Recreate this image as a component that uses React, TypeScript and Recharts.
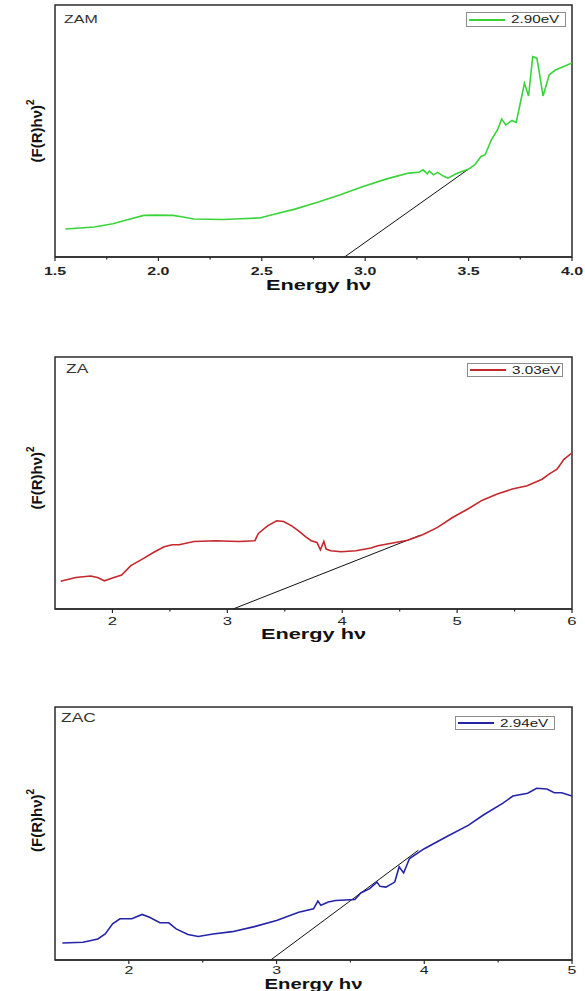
import React from 'react';
import { ComposedChart, Line, XAxis, YAxis, ReferenceLine, ReferenceArea, Legend, Label } from 'recharts';

const FONT = '"Liberation Sans", Arial, Helvetica, sans-serif';
const STRETCH = 1.45; // the source figure is squeezed wide, text included
const FRAME = '#2b2b2b';

// ZAM
const zamEnergy = [1.55, 1.69, 1.78, 1.85, 1.93, 1.99, 2.07, 2.12, 2.17, 2.31, 2.4, 2.49, 2.56, 2.66, 2.77, 2.88, 2.99, 3.1, 3.15, 3.21, 3.26, 3.28, 3.3, 3.31, 3.33, 3.35, 3.38, 3.4, 3.44, 3.5, 3.53, 3.56, 3.58, 3.61, 3.64, 3.66, 3.68, 3.71, 3.73, 3.75, 3.77, 3.79, 3.81, 3.83, 3.84, 3.86, 3.89, 3.92, 3.96, 4.0];
const zamSignal = [11.1, 11.9, 13.2, 14.8, 16.5, 16.6, 16.5, 15.9, 15.1, 14.9, 15.2, 15.5, 17.0, 19.0, 21.7, 24.7, 28.0, 30.9, 32.0, 33.3, 33.6, 34.6, 33.0, 34.1, 32.6, 33.6, 32.0, 31.3, 33.0, 34.9, 36.6, 39.9, 40.6, 46.5, 50.5, 54.7, 52.4, 54.2, 53.4, 61.0, 69.0, 63.9, 79.5, 78.9, 74.2, 63.9, 72.3, 74.2, 75.6, 77.0];
const zamFitX = [2.9, 3.5];
const zamFitY = [0, 34.9];
const zamTicks = [1.5, 2.0, 2.5, 3.0, 3.5, 4.0];
const zamMinor = [1.75, 2.25, 2.75, 3.25, 3.75];

// ZA
const zaEnergy = [1.55, 1.68, 1.81, 1.87, 1.93, 2.0, 2.08, 2.16, 2.26, 2.36, 2.45, 2.52, 2.58, 2.71, 2.9, 3.1, 3.24, 3.27, 3.35, 3.43, 3.49, 3.56, 3.62, 3.68, 3.73, 3.78, 3.81, 3.84, 3.86, 3.9, 3.99, 4.12, 4.25, 4.31, 4.44, 4.57, 4.7, 4.83, 4.96, 5.09, 5.22, 5.35, 5.48, 5.61, 5.74, 5.8, 5.87, 5.93, 6.0];
const zaSignal = [11.0, 12.5, 13.1, 12.5, 11.2, 12.3, 13.5, 17.2, 19.8, 22.5, 24.7, 25.5, 25.5, 26.8, 27.1, 26.8, 27.1, 30.0, 33.0, 35.0, 34.7, 33.0, 31.0, 28.7, 27.1, 26.4, 23.5, 26.8, 23.8, 23.1, 22.7, 23.1, 24.2, 25.1, 26.2, 27.3, 29.5, 32.4, 36.3, 39.6, 43.2, 45.6, 47.6, 48.9, 51.5, 53.5, 55.5, 59.4, 62.0];
const zaFitX = [3.05, 4.68];
const zaFitY = [0, 29.3];
const zaTicks = [2, 3, 4, 5, 6];
const zaMinor = [2.5, 3.5, 4.5, 5.5];

// ZAC
const zacEnergy = [1.55, 1.69, 1.79, 1.84, 1.89, 1.94, 2.02, 2.09, 2.14, 2.21, 2.27, 2.32, 2.4, 2.47, 2.57, 2.7, 2.85, 3.0, 3.15, 3.25, 3.28, 3.3, 3.35, 3.4, 3.53, 3.57, 3.63, 3.68, 3.7, 3.74, 3.8, 3.83, 3.86, 3.9, 4.0, 4.15, 4.3, 4.4, 4.53, 4.6, 4.7, 4.76, 4.83, 4.88, 4.93, 5.0];
const zacSignal = [6.7, 7.0, 8.3, 10.3, 14.3, 16.3, 16.3, 18.0, 16.9, 14.7, 14.7, 12.3, 10.1, 9.3, 10.3, 11.2, 13.2, 15.6, 18.9, 20.2, 23.3, 21.6, 22.9, 23.5, 23.9, 26.5, 28.2, 30.8, 29.1, 28.8, 30.8, 36.8, 34.4, 40.1, 44.0, 48.7, 53.3, 57.3, 61.9, 64.8, 65.9, 67.9, 67.6, 66.1, 66.1, 64.8];
const zacFitX = [2.96, 3.96];
const zacFitY = [0, 43.4];
const zacTicks = [2, 3, 4, 5];
const zacMinor = [2.5, 3.5, 4.5];

const panels = [
    {
        name: 'ZAM', legend: '2.90eV', color: '#3ad43a',
        energy: zamEnergy, signal: zamSignal, fitX: zamFitX, fitY: zamFitY,
        domain: [1.5, 4], ticks: zamTicks, minor: zamMinor, fmt: (v: number) => v.toFixed(1), boldTicks: true,
        top: 0, height: 300, margin: { top: 5, right: 13, left: 55, bottom: 8 }, axisH: 35,
        tickGap: 14, tickSize: 11, titleGap: 28, titleSize: 15, titleDx: 5, yTitleDy: 0,
        legendBox: { left: 466, top: 12, width: 100, height: 15 }, nameAt: { left: 64, top: 19, size: 11 },
    },
    {
        name: 'ZA', legend: '3.03eV', color: '#c4282c',
        energy: zaEnergy, signal: zaSignal, fitX: zaFitX, fitY: zaFitY,
        domain: [1.5, 6], ticks: zaTicks, minor: zaMinor, fmt: (v: number) => String(v), boldTicks: false,
        top: 340, height: 310, margin: { top: 17, right: 13, left: 55, bottom: 6 }, axisH: 35,
        tickGap: 12, tickSize: 11.5, titleGap: 25, titleSize: 15, titleDx: 0, yTitleDy: -5,
        legendBox: { left: 467, top: 23, width: 96, height: 14 }, nameAt: { left: 66, top: 29, size: 12 },
    },
    {
        name: 'ZAC', legend: '2.94eV', color: '#2424a8',
        energy: zacEnergy, signal: zacSignal, fitX: zacFitX, fitY: zacFitY,
        domain: [1.5, 5], ticks: zacTicks, minor: zacMinor, fmt: (v: number) => String(v), boldTicks: false,
        top: 690, height: 301, margin: { top: 17, right: 13, left: 55, bottom: 1 }, axisH: 30,
        tickGap: 10.5, tickSize: 11, titleGap: 24, titleSize: 14, titleDx: 0, yTitleDy: -13,
        legendBox: { left: 455, top: 26, width: 100, height: 14 }, nameAt: { left: 61, top: 28, size: 12 },
    },
];

type Panel = typeof panels[number];

const makeTick = (p: Panel) => (props: any) => {
    const { x, y, payload } = props;
    const axisY = y - 8; // tickSize 4 + tickMargin 4
    const isMinor = p.minor.includes(payload.value);
    return (
        <g>
            <line x1={x} x2={x} y1={axisY} y2={axisY + (isMinor ? 2.5 : 4)} stroke={FRAME} strokeWidth={1.2} />
            {!isMinor && (
                <g transform={`translate(${x},${axisY + p.tickGap}) scale(${STRETCH},1)`}>
                    <text textAnchor="middle" dominantBaseline="central" fontFamily={FONT}
                        fontSize={p.tickSize} fontWeight={p.boldTicks ? 'bold' : 'normal'} fill="#222">
                        {p.fmt(payload.value)}
                    </text>
                </g>
            )}
        </g>
    );
};

const LegendBox = ({ p }: { p: Panel }) => (
    <div style={{
        width: p.legendBox.width, height: p.legendBox.height, border: '1px solid #8c8c8c',
        boxSizing: 'border-box', background: '#fff', display: 'flex', alignItems: 'center', fontFamily: FONT,
    }}>
        <div style={{ width: 36, height: 2, background: p.color, marginLeft: 2, flex: 'none' }} />
        <div style={{
            fontSize: 10.5, marginLeft: 6, lineHeight: 1, color: '#222', whiteSpace: 'nowrap',
            transform: `scaleX(${STRETCH})`, transformOrigin: 'left center',
        }}>{p.legend}</div>
    </div>
);

function EnergyPanel({ p }: { p: Panel }) {
    const data = p.energy.map((e, i) => ({ e, v: p.signal[i] }));
    const allTicks = [...p.ticks, ...p.minor].sort((a, b) => a - b);
    return (
        <div style={{ position: 'absolute', left: 0, top: p.top, width: 585, height: p.height }}>
            <ComposedChart width={585} height={p.height} data={data} margin={p.margin}>
                <XAxis
                    dataKey="e" type="number" domain={p.domain} ticks={allTicks} interval={0}
                    allowDataOverflow height={p.axisH} tickLine={false} tickSize={4} tickMargin={4}
                    axisLine={{ stroke: FRAME, strokeWidth: 1.5 }} tick={makeTick(p)}
                >
                    <Label content={(lp: any) => {
                        const vb = lp.viewBox || {};
                        return (
                            <g transform={`translate(${vb.x + vb.width / 2 + p.titleDx},${vb.y + p.titleGap}) scale(${STRETCH},1)`}>
                                <text textAnchor="middle" dominantBaseline="central" fontFamily={FONT}
                                    fontSize={p.titleSize} fontWeight="bold" fill="#111">Energy hν</text>
                            </g>
                        );
                    }} />
                </XAxis>
                <YAxis type="number" domain={[0, 100]} hide />
                <ReferenceArea x1={p.domain[0]} x2={p.domain[1]} y1={0} y2={100} fill="none"
                    stroke={FRAME} strokeWidth={1.5} ifOverflow="visible">
                    <Label content={(lp: any) => {
                        const vb = lp.viewBox || {};
                        const cx = vb.x - 19;
                        const cy = vb.y + vb.height / 2 + p.yTitleDy;
                        return (
                            <text transform={`translate(${cx},${cy}) rotate(-90)`} textAnchor="middle"
                                dominantBaseline="central" fontFamily={FONT} fontSize={15} fontWeight="bold" fill="#111">
                                (F(R)hν)<tspan dy={-6} fontSize={10}>2</tspan>
                            </text>
                        );
                    }} />
                </ReferenceArea>
                <ReferenceLine
                    segment={[{ x: p.fitX[0], y: p.fitY[0] }, { x: p.fitX[1], y: p.fitY[1] }]}
                    stroke="#111" strokeWidth={1}
                />
                <Line type="linear" dataKey="v" stroke={p.color} strokeWidth={1.6} dot={false}
                    isAnimationActive={false} name={p.legend} />
                <Legend layout="vertical" verticalAlign="middle" align="center"
                    wrapperStyle={{ left: p.legendBox.left, top: p.legendBox.top, width: p.legendBox.width }}
                    content={() => <LegendBox p={p} />} />
            </ComposedChart>
            <div style={{
                position: 'absolute', left: p.nameAt.left, top: p.nameAt.top, transform: `translateY(-50%) scaleX(${STRETCH})`,
                transformOrigin: 'left center', fontFamily: FONT, fontSize: p.nameAt.size, color: '#333', lineHeight: 1,
            }}>{p.name}</div>
        </div>
    );
}

export default function App() {
    return (
        <div style={{ position: 'absolute', left: 0, top: 0, width: 585, height: 991, background: '#fff' }}>
            {panels.map(p => <EnergyPanel key={p.name} p={p} />)}
        </div>
    );
}
